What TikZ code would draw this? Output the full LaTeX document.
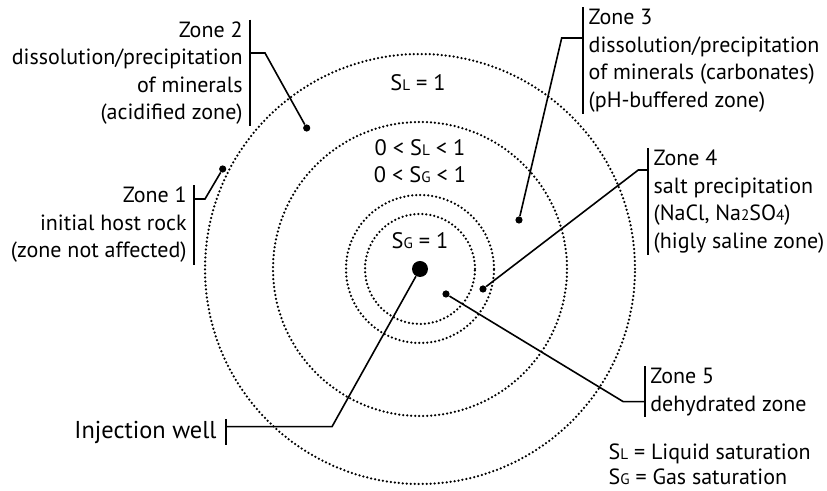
\documentclass[tikz,border=0pt]{standalone}
\usepackage{fontspec}
\setmainfont{PT Sans}
\usetikzlibrary{positioning}
\newcommand{\low}[1]{{\fontsize{7.6pt}{7.6pt}\selectfont #1}}
\tikzset{
  zone/.style={font=\fontsize{11pt}{13.75pt}\selectfont, inner xsep=2.5pt, inner ysep=0.7pt},
  ringtext/.style={font=\fontsize{11.2pt}{12pt}\selectfont, anchor=base, inner sep=0pt},
  ring/.style={line width=1.25pt, dash pattern=on 0pt off 2pt, line cap=round},
  leader/.style={line width=0.8pt},
  bracket/.style={line width=1pt},
  spot/.style={circle, fill, inner sep=0pt, minimum size=3.6pt},
}
\begin{document}
\begin{tikzpicture}[x=0.5pt,y=-0.5pt]
  \useasboundingbox (0,0) rectangle (827,491);
  % ringe um den Brunnen
  \coordinate (well) at (420,269);
  \foreach \r in {215,147,74,55}
    \draw[ring] (well) circle[radius=\r*0.5pt];
  \node[spot,minimum size=8pt] (wellspot) at (well) {};
  % Saettigungen
  \node[ringtext] (sl1) at (418,90.7) {S\low{L} = 1};
  \node[ringtext] (slmid) at (420,156) {0 < S\low{L} < 1};
  \node[ringtext] (sgmid) at (420,182.7) {0 < S\low{G} < 1};
  \node[ringtext] (sg1) at (420,248.3) {S\low{G} = 1};
  % Punkte der Zonen
  \node[spot] (d1) at (222.7,169) {};
  \node[spot] (d2) at (306.7,128) {};
  \node[spot] (d3) at (519,220) {};
  \node[spot] (d4) at (483,289) {};
  \node[spot] (d5) at (446,294) {};
  % Beschriftungen
  \node[zone,anchor=east,align=right,inner xsep=3.5pt] (z1) at (194,225)
    {Zone 1\\initial host rock\\(zone not affected)};
  \node[zone,anchor=east,align=right,inner xsep=3.5pt] (z2) at (250,73)
    {Zone 2\\dissolution/precipitation\\of minerals\\(acidified zone)};
  \node[zone,anchor=west,align=left] (z3) at (583.3,60.5)
    {Zone 3\\dissolution/precipitation\\of minerals (carbonates)\\(pH-buffered zone)};
  \node[zone,anchor=west,align=left] (z4) at (648.3,201.5)
    {Zone 4\\salt precipitation\\(NaCl, Na\low{2}SO\low{4})\\(higly saline zone)};
  \node[zone,anchor=west,align=left] (z5) at (645,392)
    {Zone 5\\dehydrated zone};
  \node[zone,anchor=east,inner xsep=4.5pt,font=\fontsize{12.2pt}{14pt}\selectfont] (inj) at (226,432)
    {Injection well};
  \node[ringtext,anchor=base west,font=\fontsize{11pt}{12pt}\selectfont] (leg1) at (608.3,459.3) {S\low{L} = Liquid saturation};
  \node[ringtext,anchor=base west,font=\fontsize{11pt}{12pt}\selectfont] (leg2) at (608.3,485) {S\low{G} = Gas saturation};
  % Klammern
  \foreach \z in {z1,z2,inj}
    \draw[bracket] (\z.north east) -- (\z.south east);
  \foreach \z in {z3,z4,z5}
    \draw[bracket] (\z.north west) -- (\z.south west);
  % Fuehrungslinien
  \coordinate (e1) at (205,199);
  \coordinate (e2) at (265,53);
  \coordinate (e3) at (561.7,38);
  \coordinate (e4) at (638.3,170);
  \coordinate (e5) at (623.3,401.7);
  \coordinate (ew) at (332,426.7);
  \draw[leader] (z1.east |- e1) -- (e1) -- (d1);
  \draw[leader] (z2.east |- e2) -- (e2) -- (d2);
  \draw[leader] (z3.west |- e3) -- (e3) -- (d3);
  \draw[leader] (z4.west |- e4) -- (e4) -- (d4);
  \draw[leader] (z5.west |- e5) -- (e5) -- (d5);
  \draw[leader] (inj.east |- ew) -- (ew) -- (wellspot);
\end{tikzpicture}
\end{document}
